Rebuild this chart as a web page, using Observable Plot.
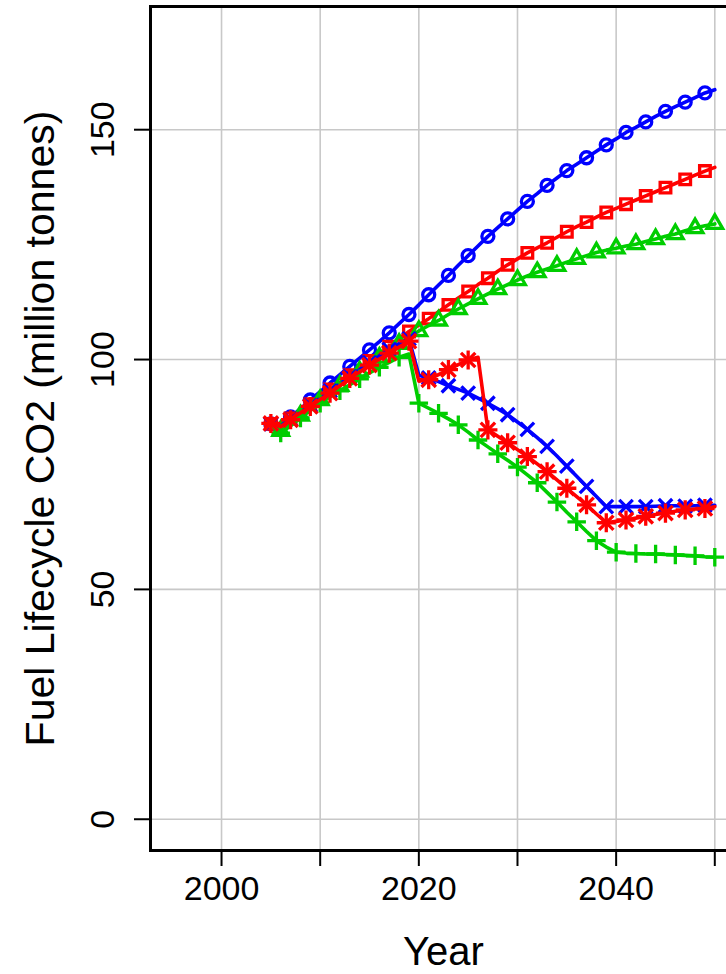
<!DOCTYPE html>
<html>
<head>
<meta charset="utf-8">
<script src="https://cdn.jsdelivr.net/npm/d3@7"></script>
<script src="https://cdn.jsdelivr.net/npm/@observablehq/plot@0.6"></script>
<style>
html, body { margin: 0; padding: 0; overflow: hidden; background: #fff; }
#chart svg { max-width: none !important; display: block; }
</style>
</head>
<body>
<div id="chart"></div>
<script>
// ---- data ----
const years = [2005, 2006, 2007, 2008, 2009, 2010, 2011, 2012, 2013, 2014,
  2015, 2016, 2017, 2018, 2019, 2020, 2021, 2022, 2023, 2024,
  2025, 2026, 2027, 2028, 2029, 2030, 2031, 2032, 2033, 2034,
  2035, 2036, 2037, 2038, 2039, 2040, 2041, 2042, 2043, 2044,
  2045, 2046, 2047, 2048, 2049, 2050];

// blue, circles
const blueCircle = [86.0, 85.8, 87.5, 89.3, 91.2, 93.0, 94.9, 96.7, 98.5, 100.3,
  102.1, 103.9, 105.8, 107.8, 109.8, 111.9, 114.1, 116.2, 118.3, 120.5,
  122.6, 124.7, 126.8, 128.7, 130.6, 132.5, 134.4, 136.1, 137.9, 139.5,
  141.1, 142.5, 143.9, 145.3, 146.7, 148.0, 149.4, 150.5, 151.7, 152.9,
  154.0, 155.0, 156.0, 157.0, 158.0, 158.7];

// red, squares
const redSquare = [86.0, 85.6, 87.2, 88.8, 90.3, 91.9, 93.5, 95.0, 96.6, 98.1,
  99.7, 101.2, 102.8, 104.4, 106.1, 107.5, 108.9, 110.4, 111.9, 113.4,
  114.8, 116.3, 117.7, 119.2, 120.6, 121.9, 123.2, 124.3, 125.4, 126.6,
  127.8, 128.9, 129.9, 131.0, 132.0, 132.9, 133.8, 134.7, 135.6, 136.5,
  137.4, 138.3, 139.2, 140.1, 141.0, 141.8];

// green, triangles
const greenTriangle = [86.0, 84.5, 86.2, 87.8, 89.5, 91.2, 92.8, 94.3, 95.9, 97.4,
  98.9, 100.4, 101.9, 103.4, 104.9, 106.2, 107.4, 108.5, 109.8, 111.0,
  112.1, 113.2, 114.3, 115.3, 116.3, 117.3, 118.2, 119.0, 119.7, 120.4,
  121.2, 121.9, 122.6, 123.3, 123.8, 124.2, 124.7, 125.1, 125.7, 126.2,
  126.8, 127.3, 128.0, 128.6, 129.1, 129.5];

// blue, x
const blueTimes = [86.0, 85.6, 87.0, 88.5, 90.0, 91.6, 93.2, 94.7, 96.3, 97.8,
  99.3, 100.8, 102.2, 103.4, 104.5, 96.6, 96.0, 95.2, 94.3, 93.5,
  92.7, 91.6, 90.5, 89.3, 88.0, 86.4, 84.8, 83.0, 81.1, 79.0,
  76.8, 74.6, 72.4, 70.2, 68.0, 68.0, 68.0, 68.0, 68.0, 68.1,
  68.2, 68.2, 68.1, 68.2, 68.3, 68.3];

// green, plus
const greenPlus = [85.8, 84.0, 85.6, 87.3, 88.9, 90.5, 91.9, 93.2, 94.5, 95.8,
  97.1, 98.3, 99.4, 100.5, 101.2, 90.5, 89.4, 88.3, 87.1, 85.8,
  84.2, 82.5, 81.0, 79.5, 78.1, 76.6, 74.9, 73.2, 71.1, 69.0,
  66.8, 64.7, 62.6, 60.6, 59.2, 58.1, 57.9, 57.8, 57.7, 57.7,
  57.6, 57.5, 57.4, 57.3, 57.1, 57.0];

// red, asterisk
const redAsterisk = [86.1, 85.4, 86.9, 88.4, 89.8, 91.3, 92.7, 94.3, 95.9, 97.3,
  98.8, 100.1, 101.4, 102.7, 104.0, 95.3, 95.6, 96.7, 97.8, 98.9,
  99.9, 100.5, 84.7, 83.3, 81.9, 80.4, 78.9, 77.3, 75.6, 73.8,
  72.0, 70.2, 68.4, 66.4, 64.5, 64.8, 65.1, 65.5, 65.9, 66.3,
  66.6, 67.0, 67.3, 67.5, 67.6, 68.0];

const xTicks = [2000, 2010, 2020, 2030, 2040, 2050];
const xLabels = [2000, 2020, 2040];
const yTicks = [0, 50, 100, 150];
const xTitle = "Year";
const yTitle = "Fuel Lifecycle CO2 (million tonnes)";

// ---- chart ----
const BLUE = "#0000FF", RED = "#FF0000", GREEN = "#00CD00";
const rows = (values) => years.map((year, i) => ({year, value: values[i]}));
const every2 = (rs, start) => rs.filter(d => (d.year - start) % 2 === 0);

const series = [
  {values: blueCircle, color: BLUE, symbols: [["circle", 6]], start: 2005},
  {values: redSquare, color: RED, symbols: [["square", 6]], start: 2005},
  {values: greenTriangle, color: GREEN, symbols: [["triangle", 5.8]], start: 2006},
  {values: blueTimes, color: BLUE, symbols: [["times", 6.2]], start: 2005},
  {values: greenPlus, color: GREEN, symbols: [["plus", 6]], start: 2006},
  {values: redAsterisk, color: RED, symbols: [["plus", 6.2], ["times", 6.6]], start: 2005}
];

const dataMarks = series.flatMap(s => {
  const r = rows(s.values);
  return [
    Plot.line(r, {x: "year", y: "value", stroke: s.color, strokeWidth: 3.6}),
    ...s.symbols.map(([sym, rad]) => Plot.dot(every2(r, s.start), {
      x: "year", y: "value", symbol: sym, r: rad, stroke: s.color, fill: "none", strokeWidth: 3.3
    }))
  ];
});

const chart = Plot.plot({
  width: 740,
  height: 974,
  marginLeft: 150,
  marginRight: 4,
  marginTop: 6,
  marginBottom: 124,
  style: {fontFamily: "'Liberation Sans', Arial, Helvetica, sans-serif", background: "#fff", color: "#000", maxWidth: "none"},
  x: {domain: [1992.8, 2052.2], label: null},
  y: {domain: [-6.8, 176.8], label: null},
  marks: [
    Plot.gridX({ticks: xTicks, stroke: "#c8c8c8", strokeOpacity: 1, strokeWidth: 1.6}),
    Plot.gridY({ticks: yTicks, stroke: "#c8c8c8", strokeOpacity: 1, strokeWidth: 1.6}),
    ...dataMarks,
    Plot.axisX({ticks: xTicks, tickSize: 16, tickPadding: 9, fontSize: 34, strokeWidth: 2,
      tickFormat: d => xLabels.includes(d) ? String(d) : "", label: null}),
    Plot.axisY({ticks: yTicks, tickSize: 16, tickPadding: 21, tickRotate: -90, fontSize: 34, strokeWidth: 2,
      tickFormat: d => String(d), label: null}),
    Plot.frame({stroke: "#000", strokeWidth: 3}),
    Plot.text([xTitle], {text: d => d, frameAnchor: "bottom", dy: 114, fontSize: 40, lineAnchor: "bottom"}),
    Plot.text([yTitle], {text: d => d, frameAnchor: "left", dx: -97, rotate: -90, fontSize: 41, lineAnchor: "bottom", textAnchor: "middle"})
  ]
});
document.getElementById("chart").appendChild(chart);
</script>
</body>
</html>
